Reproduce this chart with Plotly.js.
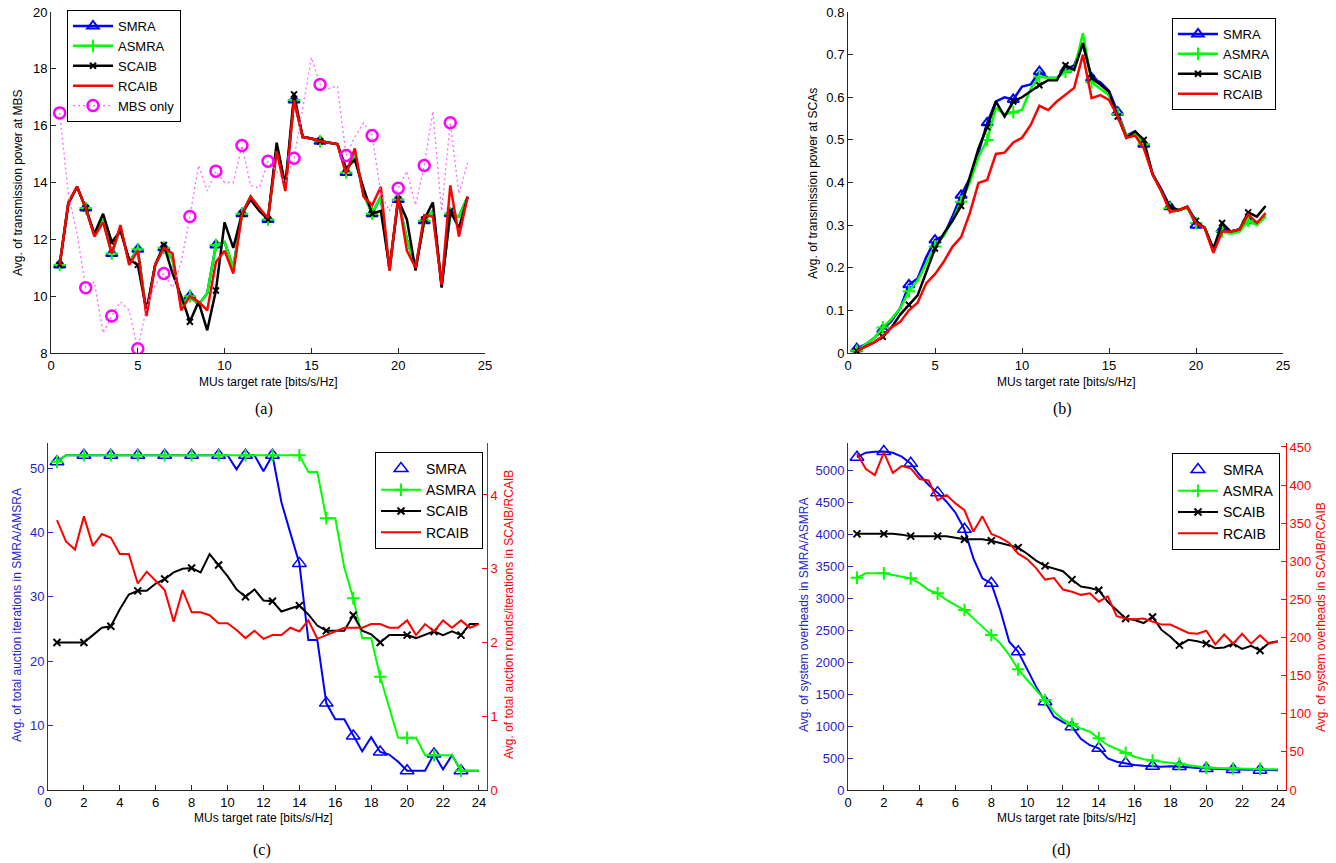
<!DOCTYPE html>
<html><head><meta charset="utf-8">
<script src="https://cdn.plot.ly/plotly-3.0.1.min.js"></script>
<style>html,body{margin:0;padding:0;background:#fff;} #chart{width:1336px;height:863px;}</style>
</head><body><div id="chart"></div>
<script>
// ---- shared x values: MUs target rate [bits/s/Hz]
const rate = [0.5,1,1.5,2,2.5,3,3.5,4,4.5,5,5.5,6,6.5,7,7.5,8,8.5,9,9.5,10,10.5,11,11.5,12,
              12.5,13,13.5,14,14.5,15,15.5,16,16.5,17,17.5,18,18.5,19,19.5,20,20.5,21,21.5,22,22.5,23,23.5,24];

// ---- (a) Avg. transmission power at MBS
const aSMRA  = [11.1,13.3,13.85,13.1,12.15,12.7,11.5,12.4,11.2,11.65,9.4,11.1,11.7,11.3,9.7,10.0,9.7,10.1,11.8,11.9,11.0,12.9,13.5,13.1,
                12.7,15.2,13.8,16.9,15.6,15.55,15.45,15.4,15.35,14.35,15.0,13.6,12.9,13.5,10.9,13.4,12.0,11.0,12.65,13.0,10.4,12.9,12.8,13.5];
const aASMRA = [11.1,13.3,13.85,13.1,12.15,12.7,11.5,12.4,11.2,11.65,9.4,11.1,11.7,11.3,9.7,10.0,9.7,10.1,11.8,11.9,11.0,12.9,13.5,13.1,
                12.7,15.2,13.8,16.9,15.6,15.55,15.45,15.4,15.35,14.35,15.0,13.6,12.9,13.5,10.9,13.4,12.0,11.0,12.65,13.0,10.4,12.9,12.8,13.5];
const aSCAIB = [11.1,13.25,13.85,13.1,12.2,12.9,11.9,12.3,11.3,11.1,9.5,11.1,11.8,10.8,10.0,9.1,9.8,8.8,10.2,12.6,11.7,12.9,13.4,13.0,
                12.7,15.4,13.9,17.1,15.6,15.55,15.45,15.4,15.35,14.5,14.8,13.8,12.9,13.0,11.0,13.4,12.7,10.9,12.7,13.3,10.3,13.0,12.4,13.5];
const aRCAIB = [11.1,13.3,13.85,13.1,12.1,12.6,11.5,12.5,11.1,11.6,9.3,11.1,11.7,11.5,9.5,10.0,9.8,9.5,11.2,11.6,10.8,12.9,13.5,13.1,
                12.75,15.1,13.7,16.9,15.6,15.55,15.45,15.4,15.35,14.3,15.2,13.5,13.2,13.85,10.9,13.5,11.6,11.0,12.85,12.8,10.4,13.9,12.1,13.5];
const aMBS   = [16.45,13.6,12.2,10.3,10.5,8.7,9.3,9.8,9.5,8.15,9.6,10.4,10.8,10.3,11.2,12.8,14.6,13.7,14.4,14.0,14.0,15.3,13.9,13.8,
                14.75,14.4,14.0,14.85,16.6,18.4,17.45,17.3,17.4,14.95,15.6,16.1,15.65,13.6,13.0,13.8,14.4,13.2,14.6,16.5,13.0,16.1,13.6,14.7];

// ---- (b) Avg. transmission power at SCAs
const bSMRA  = [0.01,0.02,0.035,0.055,0.075,0.105,0.16,0.175,0.225,0.265,0.275,0.32,0.37,0.41,0.47,0.54,0.59,0.60,0.595,0.625,0.63,0.66,0.645,0.645,
                0.665,0.675,0.725,0.645,0.635,0.615,0.565,0.51,0.52,0.49,0.42,0.385,0.343,0.335,0.343,0.30,0.295,0.24,0.29,0.285,0.29,0.31,0.305,0.32];
const bASMRA = [0.005,0.02,0.035,0.06,0.08,0.105,0.145,0.17,0.21,0.25,0.275,0.31,0.355,0.40,0.46,0.50,0.575,0.56,0.565,0.57,0.62,0.648,0.645,0.645,
                0.66,0.665,0.75,0.635,0.62,0.605,0.56,0.51,0.515,0.49,0.42,0.38,0.34,0.335,0.34,0.305,0.295,0.24,0.285,0.28,0.285,0.31,0.30,0.32];
const bSCAIB = [0.005,0.015,0.025,0.038,0.06,0.09,0.113,0.135,0.19,0.245,0.28,0.31,0.345,0.41,0.48,0.53,0.59,0.555,0.59,0.60,0.615,0.628,0.64,0.64,
                0.675,0.664,0.727,0.645,0.63,0.613,0.555,0.505,0.52,0.50,0.42,0.38,0.343,0.335,0.343,0.31,0.293,0.245,0.305,0.285,0.29,0.33,0.32,0.345];
const bRCAIB = [0.005,0.015,0.025,0.04,0.06,0.073,0.10,0.118,0.164,0.185,0.214,0.249,0.272,0.328,0.399,0.406,0.467,0.47,0.494,0.505,0.535,0.58,0.57,0.59,
                0.605,0.622,0.70,0.598,0.605,0.594,0.555,0.505,0.51,0.48,0.42,0.38,0.331,0.335,0.343,0.305,0.293,0.235,0.285,0.285,0.29,0.325,0.305,0.328];

// ---- (c) Avg. of total auction iterations (left) / rounds (right)
const cSMRA  = [51,52,52,52,52,52,52,52,52,52,52,52,52,52,52,52,52,52,52,52,49.8,52,52,49.5,
                52,44.7,39.9,35.2,23.3,23.3,13.5,11,11,8.4,6,8.2,5.9,5.5,4.4,3,3,3,5.6,3.2,5.4,3,3,3];
const cASMRA = [51,52,52,52,52,52,52,52,52,52,52,52,52,52,52,52,52,52,52,52,52,52,52,52,
                52,52,52,52,49.4,49.4,42.2,42.2,34.6,29.8,23.6,23.6,17.6,12.9,8.1,8.1,8.1,5.4,5.4,5.4,5.4,3,3,3];
const cSCAIB = [2.0,2.0,2.0,2.0,2.1,2.2,2.22,2.45,2.65,2.7,2.7,2.8,2.86,2.95,3.0,3.01,2.95,3.2,3.05,2.9,2.72,2.62,2.72,2.57,
                2.56,2.42,2.46,2.5,2.38,2.23,2.16,2.16,2.16,2.37,2.16,2.11,2.0,2.1,2.1,2.1,2.06,2.1,2.15,2.1,2.15,2.1,2.25,2.25];
const cRCAIB = [3.66,3.37,3.26,3.71,3.31,3.47,3.42,3.2,3.2,2.8,2.96,2.83,2.71,2.28,2.71,2.41,2.41,2.37,2.26,2.26,2.17,2.06,2.16,2.05,
                2.1,2.1,2.2,2.15,2.3,2.05,2.1,2.15,2.2,2.2,2.2,2.25,2.25,2.2,2.2,2.3,2.1,2.25,2.15,2.3,2.2,2.3,2.2,2.25];

// ---- (d) Avg. of system overheads (left SMRA/ASMRA, right SCAIB/RCAIB)
const dSMRA  = [5200,5270,5286,5290,5270,5208,5104,4922,4766,4646,4505,4333,4073,3620,3307,3229,2812,2318,2161,1875,1615,1380,1146,1060,
                990,800,700,651,495,442,417,391,380,370,365,372,368,355,345,335,330,325,320,318,315,310,310,310];
const dASMRA = [3318,3385,3385,3385,3359,3333,3307,3229,3125,3073,2969,2890,2812,2682,2552,2422,2292,2109,1885,1719,1562,1406,1224,1100,
                1030,960,910,810,700,640,580,520,480,460,440,420,410,390,370,350,345,340,335,335,330,330,325,325];
const dSCAIB = [336,336,336,336,336,335,333,333,333,333,333,331,329,329,329,327,324,322,318,310,301,294,290,287,
                276,267,265,262,247,236,225,223,219,227,210,201,190,197,195,192,186,187,192,185,189,183,193,195];
const dRCAIB = [441,421,413,443,416,425,422,408,406,380,387,376,367,339,359,336,331,324,310,303,291,276,278,263,
                260,256,258,247,254,228,225,224,225,221,217,217,212,206,205,209,191,204,192,205,192,203,192,195];

const seriesNames = ['SMRA','ASMRA','SCAIB','RCAIB','MBS only'];
const xTitle = 'MUs target rate [bits/s/Hz]';

// ---------------------------------------------------------------
const W = 1336, H = 863;
const PX = v => v / W, PY = v => 1 - v / H;
const every3 = arr => arr.filter((_, i) => i % 3 === 0);
const BLUE = '#0000ff', GREEN = '#00ff00', BLACK = '#000000', RED = '#ff0000', MAG = '#ff00ff';
const AXBLUE = '#2424cc', AXRED = '#ff0000';

const traces = [];
const legendTraces = [];
function addSeries(o) {
  traces.push({type:'scatter', mode:'lines', x:rate, y:o.y, xaxis:o.xa, yaxis:o.ya,
    line:{color:o.lineColor || o.color, width:o.width, dash:o.dash || 'solid'}, showlegend:false, hoverinfo:'skip'});
  if (o.symbol) {
    traces.push({type:'scatter', mode:'markers', x:every3(rate), y:every3(o.y), xaxis:o.xa, yaxis:o.ya,
      marker:{symbol:o.symbol, size:o.msize, color:o.color, line:{color:o.color, width:o.mlw}},
      showlegend:false, hoverinfo:'skip'});
  }
  const lt = {type:'scatter', x:[null], y:[null], xaxis:o.xa, yaxis:o.ya, name:o.name,
    legend:o.legend, showlegend:true,
    mode: o.legendMode, line:{color:o.lineColor || o.color, width:o.width, dash:o.dash || 'solid'}};
  if (o.symbol) lt.marker = {symbol:o.symbol, size:o.msize, color:o.color, line:{color:o.color, width:o.mlw}};
  legendTraces.push(lt);
}

// (a)
addSeries({y:aSMRA, xa:'x', ya:'y', color:BLUE, width:2.5, symbol:'triangle-up-open', msize:10, mlw:2, name:seriesNames[0], legend:'legend', legendMode:'lines+markers'});
addSeries({y:aASMRA, xa:'x', ya:'y', color:GREEN, width:2.5, symbol:'cross-thin-open', msize:9, mlw:2, name:seriesNames[1], legend:'legend', legendMode:'lines+markers'});
addSeries({y:aSCAIB, xa:'x', ya:'y', color:BLACK, width:2.5, symbol:'x-thin-open', msize:6, mlw:2, name:seriesNames[2], legend:'legend', legendMode:'lines+markers'});
addSeries({y:aRCAIB, xa:'x', ya:'y', color:RED, width:2.5, name:seriesNames[3], legend:'legend', legendMode:'lines'});
addSeries({y:aMBS, xa:'x', ya:'y', color:MAG, lineColor:'#ff66ff', width:1.3, dash:'2px,3px', symbol:'circle-open', msize:11, mlw:2.5, name:seriesNames[4], legend:'legend', legendMode:'lines+markers'});
// (b)
addSeries({y:bSMRA, xa:'x2', ya:'y2', color:BLUE, width:2.5, symbol:'triangle-up-open', msize:10, mlw:2, name:seriesNames[0], legend:'legend2', legendMode:'lines+markers'});
addSeries({y:bASMRA, xa:'x2', ya:'y2', color:GREEN, width:2.5, symbol:'cross-thin-open', msize:9, mlw:2, name:seriesNames[1], legend:'legend2', legendMode:'lines+markers'});
addSeries({y:bSCAIB, xa:'x2', ya:'y2', color:BLACK, width:2.5, symbol:'x-thin-open', msize:6, mlw:2, name:seriesNames[2], legend:'legend2', legendMode:'lines+markers'});
addSeries({y:bRCAIB, xa:'x2', ya:'y2', color:RED, width:2.5, name:seriesNames[3], legend:'legend2', legendMode:'lines'});
// (c)
addSeries({y:cSMRA, xa:'x3', ya:'y3', color:BLUE, width:2, symbol:'triangle-up-open', msize:12, mlw:1.5, name:seriesNames[0], legend:'legend3', legendMode:'markers'});
addSeries({y:cASMRA, xa:'x3', ya:'y3', color:GREEN, width:2, symbol:'cross-thin-open', msize:9, mlw:2, name:seriesNames[1], legend:'legend3', legendMode:'lines+markers'});
addSeries({y:cSCAIB, xa:'x3', ya:'y5', color:BLACK, width:2, symbol:'x-thin-open', msize:7, mlw:2, name:seriesNames[2], legend:'legend3', legendMode:'lines+markers'});
addSeries({y:cRCAIB, xa:'x3', ya:'y5', color:RED, width:2, name:seriesNames[3], legend:'legend3', legendMode:'lines'});
// (d)
addSeries({y:dSMRA, xa:'x4', ya:'y4', color:BLUE, width:2, symbol:'triangle-up-open', msize:12, mlw:1.5, name:seriesNames[0], legend:'legend4', legendMode:'markers'});
addSeries({y:dASMRA, xa:'x4', ya:'y4', color:GREEN, width:2, symbol:'cross-thin-open', msize:9, mlw:2, name:seriesNames[1], legend:'legend4', legendMode:'lines+markers'});
addSeries({y:dSCAIB, xa:'x4', ya:'y6', color:BLACK, width:2, symbol:'x-thin-open', msize:7, mlw:2, name:seriesNames[2], legend:'legend4', legendMode:'lines+markers'});
addSeries({y:dRCAIB, xa:'x4', ya:'y6', color:RED, width:2, name:seriesNames[3], legend:'legend4', legendMode:'lines'});

const FONT = 'Liberation Sans, Arial, Helvetica, sans-serif';
const ax = (extra, color) => Object.assign({
  showline:true, linecolor: color || '#262626', linewidth:1, ticks:'inside', ticklen:5, tickwidth:1,
  tickcolor: color || '#262626', showgrid:false, zeroline:false, fixedrange:true,
  tickfont:{family:FONT, size:13, color: color || '#000'}
}, extra);

const legendBase = (x, y, fs) => ({x:PX(x), y:PY(y), xanchor:'left', yanchor:'top', bgcolor:'#fff',
  bordercolor:'#000', borderwidth:1, font:{family:FONT, size:fs || 13, color:'#000'}, itemwidth:40,
  traceorder:'normal', tracegroupgap:0});

const ann = (text, x, y, opts) => Object.assign({text, x:PX(x), y:PY(y), xref:'paper', yref:'paper',
  showarrow:false, xanchor:'center', yanchor:'middle', font:{family:FONT, size:12, color:'#000'}}, opts || {});
const SERIF = {family:'Liberation Serif, Times New Roman, serif', size:16, color:'#000'};

const layout = {
  width:W, height:H, margin:{l:0, r:0, t:0, b:0}, paper_bgcolor:'#fff', plot_bgcolor:'rgba(0,0,0,0)',
  font:{family:FONT, size:13, color:'#000'}, showlegend:true,
  xaxis: ax({domain:[PX(51), PX(485)], range:[0,25], anchor:'y', tickvals:[0,5,10,15,20,25]}),
  yaxis: ax({domain:[PY(353), PY(12)], range:[8,20], anchor:'x', tickvals:[8,10,12,14,16,18,20]}),
  xaxis2: ax({domain:[PX(848), PX(1283)], range:[0,25], anchor:'y2', tickvals:[0,5,10,15,20,25]}),
  yaxis2: ax({domain:[PY(353), PY(12)], range:[0,0.8], anchor:'x2', tickvals:[0,0.1,0.2,0.3,0.4,0.5,0.6,0.7,0.8], ticktext:['0','0.1','0.2','0.3','0.4','0.5','0.6','0.7','0.8']}),
  xaxis3: ax({domain:[PX(48), PX(487)], range:[0,24.45], anchor:'y3', tickvals:[0,2,4,6,8,10,12,14,16,18,20,22,24]}),
  yaxis3: ax({domain:[PY(790), PY(443)], range:[0,53.9], anchor:'x3', tickvals:[0,10,20,30,40,50]}, AXBLUE),
  yaxis5: ax({range:[0,4.705], anchor:'x3', overlaying:'y3', side:'right', tickvals:[0,1,2,3,4]}, AXRED),
  xaxis4: ax({domain:[PX(848), PX(1286)], range:[0,24.45], anchor:'y4', tickvals:[0,2,4,6,8,10,12,14,16,18,20,22,24]}),
  yaxis4: ax({domain:[PY(790), PY(443)], range:[0,5422], anchor:'x4', tickvals:[0,500,1000,1500,2000,2500,3000,3500,4000,4500,5000]}, AXBLUE),
  yaxis6: ax({range:[0,455.2], anchor:'x4', overlaying:'y4', side:'right', tickvals:[0,50,100,150,200,250,300,350,400,450]}, AXRED),
  legend: legendBase(67, 10),
  legend2: legendBase(1172, 18),
  legend3: legendBase(375, 452, 14),
  legend4: legendBase(1172, 453, 14),
  annotations: [
    ann('Avg. of transmission power at MBS', 18, 183, {textangle:-90}),
    ann(xTitle, 268, 382),
    ann('(a)', 264, 409, {font:SERIF}),
    ann('Avg. of transmission power at SCAs', 813, 183, {textangle:-90}),
    ann(xTitle, 1066, 382),
    ann('(b)', 1062, 409, {font:SERIF}),
    ann('Avg. of total auction iterations in SMRA/AMSRA', 17, 615, {textangle:-90, font:{family:FONT, size:12, color:AXBLUE}}),
    ann('Avg. of total auction rounds/iterations in SCAIB/RCAIB', 509, 615, {textangle:-90, font:{family:FONT, size:12, color:AXRED}}),
    ann(xTitle, 263, 818),
    ann('(c)', 262, 850, {font:SERIF}),
    ann('Avg. of system overheads in SMRA/ASMRA', 804, 615, {textangle:-90, font:{family:FONT, size:12, color:AXBLUE}}),
    ann('Avg. of system overheads in SCAIB/RCAIB', 1321, 617, {textangle:-90, font:{family:FONT, size:12, color:AXRED}}),
    ann(xTitle, 1066, 818),
    ann('(d)', 1061, 850, {font:SERIF})
  ]
};

Plotly.newPlot('chart', traces.concat(legendTraces), layout, {staticPlot:true, displayModeBar:false});
</script></body></html>
